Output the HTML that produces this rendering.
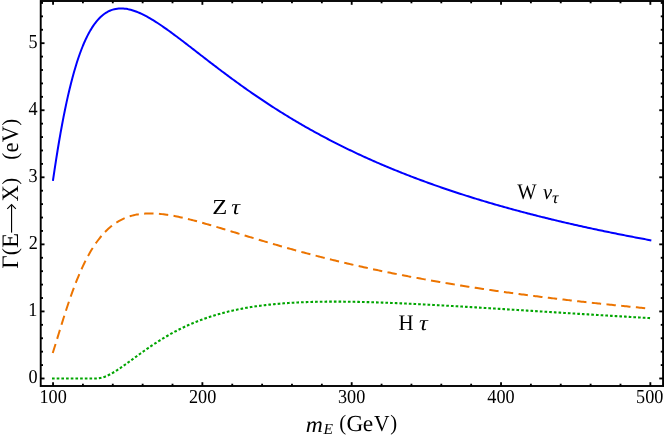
<!DOCTYPE html>
<html><head><meta charset="utf-8"><style>
html,body{margin:0;padding:0;background:#fff;}
svg{display:block;font-family:"Liberation Serif",serif;text-rendering:geometricPrecision;will-change:transform;}
</style></head><body>
<svg width="664" height="436" viewBox="0 0 664 436">
<rect width="664" height="436" fill="#fff"/>
<g fill="none" stroke-linejoin="round" stroke-linecap="square">
<path d="M53.05,179.91 L54.54,169.80 L56.04,160.07 L57.53,150.72 L59.02,141.76 L60.52,133.18 L62.01,124.99 L63.50,117.16 L65.00,109.71 L66.49,102.62 L67.98,95.89 L69.48,89.49 L70.97,83.43 L72.46,77.70 L73.96,72.28 L75.45,67.16 L76.94,62.33 L78.44,57.79 L79.93,53.52 L81.42,49.51 L82.91,45.75 L84.41,42.23 L85.90,38.94 L87.39,35.87 L88.89,33.02 L90.38,30.37 L91.87,27.91 L93.37,25.64 L94.86,23.54 L96.35,21.62 L97.85,19.85 L99.34,18.24 L100.83,16.78 L102.33,15.46 L103.82,14.27 L105.31,13.21 L106.81,12.28 L108.30,11.46 L109.79,10.75 L111.29,10.14 L112.78,9.63 L114.27,9.22 L115.77,8.90 L117.26,8.67 L118.75,8.52 L120.25,8.44 L121.74,8.44 L123.23,8.52 L124.73,8.65 L126.22,8.85 L127.71,9.11 L129.21,9.43 L130.70,9.80 L132.19,10.22 L133.69,10.69 L135.18,11.21 L136.67,11.77 L138.17,12.37 L139.66,13.01 L141.15,13.69 L142.65,14.40 L144.14,15.14 L145.63,15.92 L147.12,16.72 L148.62,17.55 L150.11,18.41 L151.60,19.29 L153.10,20.20 L154.59,21.12 L156.08,22.07 L157.58,23.03 L159.07,24.01 L160.56,25.01 L162.06,26.03 L163.55,27.06 L165.04,28.10 L166.54,29.15 L168.03,30.22 L169.52,31.29 L171.02,32.38 L172.51,33.47 L174.00,34.58 L175.50,35.69 L176.99,36.81 L178.48,37.93 L179.98,39.06 L181.47,40.19 L182.96,41.33 L184.46,42.47 L185.95,43.62 L187.44,44.77 L188.94,45.92 L190.43,47.07 L191.92,48.23 L193.42,49.39 L194.91,50.54 L196.40,51.70 L197.90,52.86 L199.39,54.02 L200.88,55.17 L202.38,56.33 L203.87,57.48 L205.36,58.64 L206.85,59.79 L208.35,60.94 L209.84,62.09 L211.33,63.23 L212.83,64.38 L214.32,65.52 L215.81,66.66 L217.31,67.79 L218.80,68.93 L220.29,70.05 L221.79,71.18 L223.28,72.30 L224.77,73.42 L226.27,74.53 L227.76,75.65 L229.25,76.75 L230.75,77.85 L232.24,78.95 L233.73,80.05 L235.23,81.14 L236.72,82.22 L238.21,83.30 L239.71,84.38 L241.20,85.45 L242.69,86.52 L244.19,87.58 L245.68,88.63 L247.17,89.69 L248.67,90.73 L250.16,91.78 L251.65,92.81 L253.15,93.84 L254.64,94.87 L256.13,95.89 L257.63,96.91 L259.12,97.92 L260.61,98.93 L262.11,99.93 L263.60,100.93 L265.09,101.92 L266.58,102.91 L268.08,103.89 L269.57,104.86 L271.06,105.84 L272.56,106.80 L274.05,107.76 L275.54,108.72 L277.04,109.67 L278.53,110.61 L280.02,111.55 L281.52,112.49 L283.01,113.42 L284.50,114.34 L286.00,115.26 L287.49,116.18 L288.98,117.08 L290.48,117.99 L291.97,118.89 L293.46,119.78 L294.96,120.67 L296.45,121.56 L297.94,122.44 L299.44,123.31 L300.93,124.18 L302.42,125.04 L303.92,125.90 L305.41,126.76 L306.90,127.61 L308.40,128.45 L309.89,129.29 L311.38,130.13 L312.88,130.96 L314.37,131.78 L315.86,132.61 L317.36,133.42 L318.85,134.23 L320.34,135.04 L321.84,135.84 L323.33,136.64 L324.82,137.44 L326.31,138.23 L327.81,139.01 L329.30,139.79 L330.79,140.57 L332.29,141.34 L333.78,142.10 L335.27,142.87 L336.77,143.62 L338.26,144.38 L339.75,145.13 L341.25,145.87 L342.74,146.61 L344.23,147.35 L345.73,148.08 L347.22,148.81 L348.71,149.54 L350.21,150.26 L351.70,150.97 L353.19,151.68 L354.69,152.39 L356.18,153.10 L357.67,153.80 L359.17,154.49 L360.66,155.19 L362.15,155.87 L363.65,156.56 L365.14,157.24 L366.63,157.92 L368.13,158.59 L369.62,159.26 L371.11,159.92 L372.61,160.59 L374.10,161.24 L375.59,161.90 L377.09,162.55 L378.58,163.20 L380.07,163.84 L381.57,164.48 L383.06,165.12 L384.55,165.75 L386.04,166.38 L387.54,167.01 L389.03,167.63 L390.52,168.25 L392.02,168.86 L393.51,169.48 L395.00,170.09 L396.50,170.69 L397.99,171.30 L399.48,171.90 L400.98,172.49 L402.47,173.08 L403.96,173.67 L405.46,174.26 L406.95,174.84 L408.44,175.42 L409.94,176.00 L411.43,176.58 L412.92,177.15 L414.42,177.72 L415.91,178.28 L417.40,178.84 L418.90,179.40 L420.39,179.96 L421.88,180.51 L423.38,181.06 L424.87,181.61 L426.36,182.15 L427.86,182.69 L429.35,183.23 L430.84,183.77 L432.34,184.30 L433.83,184.83 L435.32,185.36 L436.82,185.88 L438.31,186.41 L439.80,186.93 L441.30,187.44 L442.79,187.96 L444.28,188.47 L445.77,188.98 L447.27,189.48 L448.76,189.99 L450.25,190.49 L451.75,190.99 L453.24,191.48 L454.73,191.98 L456.23,192.47 L457.72,192.96 L459.21,193.44 L460.71,193.93 L462.20,194.41 L463.69,194.89 L465.19,195.36 L466.68,195.84 L468.17,196.31 L469.67,196.78 L471.16,197.25 L472.65,197.71 L474.15,198.17 L475.64,198.63 L477.13,199.09 L478.63,199.55 L480.12,200.00 L481.61,200.45 L483.11,200.90 L484.60,201.35 L486.09,201.79 L487.59,202.23 L489.08,202.68 L490.57,203.11 L492.07,203.55 L493.56,203.98 L495.05,204.42 L496.55,204.85 L498.04,205.27 L499.53,205.70 L501.03,206.12 L502.52,206.54 L504.01,206.96 L505.50,207.38 L507.00,207.80 L508.49,208.21 L509.98,208.62 L511.48,209.03 L512.97,209.44 L514.46,209.85 L515.96,210.25 L517.45,210.65 L518.94,211.05 L520.44,211.45 L521.93,211.85 L523.42,212.24 L524.92,212.64 L526.41,213.03 L527.90,213.42 L529.40,213.81 L530.89,214.19 L532.38,214.58 L533.88,214.96 L535.37,215.34 L536.86,215.72 L538.36,216.10 L539.85,216.47 L541.34,216.85 L542.84,217.22 L544.33,217.59 L545.82,217.96 L547.32,218.32 L548.81,218.69 L550.30,219.05 L551.80,219.42 L553.29,219.78 L554.78,220.14 L556.28,220.49 L557.77,220.85 L559.26,221.20 L560.75,221.56 L562.25,221.91 L563.74,222.26 L565.23,222.61 L566.73,222.95 L568.22,223.30 L569.71,223.64 L571.21,223.98 L572.70,224.32 L574.19,224.66 L575.69,225.00 L577.18,225.34 L578.67,225.67 L580.17,226.01 L581.66,226.34 L583.15,226.67 L584.65,227.00 L586.14,227.32 L587.63,227.65 L589.13,227.98 L590.62,228.30 L592.11,228.62 L593.61,228.94 L595.10,229.26 L596.59,229.58 L598.09,229.90 L599.58,230.21 L601.07,230.53 L602.57,230.84 L604.06,231.15 L605.55,231.46 L607.05,231.77 L608.54,232.08 L610.03,232.39 L611.53,232.69 L613.02,232.99 L614.51,233.30 L616.01,233.60 L617.50,233.90 L618.99,234.20 L620.49,234.50 L621.98,234.79 L623.47,235.09 L624.96,235.38 L626.46,235.67 L627.95,235.97 L629.44,236.26 L630.94,236.55 L632.43,236.84 L633.92,237.12 L635.42,237.41 L636.91,237.69 L638.40,237.98 L639.90,238.26 L641.39,238.54 L642.88,238.82 L644.38,239.10 L645.87,239.38 L647.36,239.66 L648.86,239.93 L650.35,240.21" stroke="#0000ff" stroke-width="2"/>
<path d="M53.05,352.00 L54.54,347.30 L56.04,342.51 L57.53,337.65 L59.02,332.78 L60.52,327.92 L62.01,323.09 L63.50,318.31 L65.00,313.61 L66.49,309.00 L67.98,304.48 L69.48,300.08 L70.97,295.79 L72.46,291.62 L73.96,287.58 L75.45,283.67 L76.94,279.90 L78.44,276.26 L79.93,272.75 L81.42,269.37 L82.91,266.13 L84.41,263.01 L85.90,260.03 L87.39,257.17 L88.89,254.43 L90.38,251.82 L91.87,249.33 L93.37,246.95 L94.86,244.68 L96.35,242.53 L97.85,240.48 L99.34,238.53 L100.83,236.68 L102.33,234.93 L103.82,233.27 L105.31,231.70 L106.81,230.22 L108.30,228.82 L109.79,227.50 L111.29,226.26 L112.78,225.10 L114.27,224.01 L115.77,222.98 L117.26,222.03 L118.75,221.14 L120.25,220.30 L121.74,219.53 L123.23,218.82 L124.73,218.16 L126.22,217.55 L127.71,216.99 L129.21,216.49 L130.70,216.02 L132.19,215.60 L133.69,215.23 L135.18,214.89 L136.67,214.60 L138.17,214.34 L139.66,214.11 L141.15,213.92 L142.65,213.77 L144.14,213.64 L145.63,213.55 L147.12,213.48 L148.62,213.44 L150.11,213.43 L151.60,213.44 L153.10,213.47 L154.59,213.53 L156.08,213.61 L157.58,213.71 L159.07,213.83 L160.56,213.97 L162.06,214.13 L163.55,214.31 L165.04,214.50 L166.54,214.71 L168.03,214.93 L169.52,215.16 L171.02,215.41 L172.51,215.68 L174.00,215.95 L175.50,216.24 L176.99,216.54 L178.48,216.84 L179.98,217.16 L181.47,217.49 L182.96,217.83 L184.46,218.17 L185.95,218.52 L187.44,218.88 L188.94,219.25 L190.43,219.63 L191.92,220.01 L193.42,220.39 L194.91,220.79 L196.40,221.18 L197.90,221.59 L199.39,222.00 L200.88,222.41 L202.38,222.82 L203.87,223.24 L205.36,223.67 L206.85,224.10 L208.35,224.53 L209.84,224.96 L211.33,225.40 L212.83,225.83 L214.32,226.27 L215.81,226.72 L217.31,227.16 L218.80,227.61 L220.29,228.06 L221.79,228.50 L223.28,228.95 L224.77,229.41 L226.27,229.86 L227.76,230.31 L229.25,230.77 L230.75,231.22 L232.24,231.67 L233.73,232.13 L235.23,232.58 L236.72,233.04 L238.21,233.50 L239.71,233.95 L241.20,234.41 L242.69,234.86 L244.19,235.31 L245.68,235.77 L247.17,236.22 L248.67,236.67 L250.16,237.13 L251.65,237.58 L253.15,238.03 L254.64,238.48 L256.13,238.93 L257.63,239.37 L259.12,239.82 L260.61,240.27 L262.11,240.71 L263.60,241.15 L265.09,241.60 L266.58,242.04 L268.08,242.48 L269.57,242.91 L271.06,243.35 L272.56,243.79 L274.05,244.22 L275.54,244.65 L277.04,245.08 L278.53,245.51 L280.02,245.94 L281.52,246.37 L283.01,246.79 L284.50,247.22 L286.00,247.64 L287.49,248.06 L288.98,248.48 L290.48,248.89 L291.97,249.31 L293.46,249.72 L294.96,250.13 L296.45,250.54 L297.94,250.95 L299.44,251.36 L300.93,251.76 L302.42,252.17 L303.92,252.57 L305.41,252.97 L306.90,253.36 L308.40,253.76 L309.89,254.15 L311.38,254.55 L312.88,254.94 L314.37,255.33 L315.86,255.71 L317.36,256.10 L318.85,256.48 L320.34,256.86 L321.84,257.24 L323.33,257.62 L324.82,258.00 L326.31,258.37 L327.81,258.75 L329.30,259.12 L330.79,259.49 L332.29,259.85 L333.78,260.22 L335.27,260.58 L336.77,260.95 L338.26,261.31 L339.75,261.66 L341.25,262.02 L342.74,262.38 L344.23,262.73 L345.73,263.08 L347.22,263.43 L348.71,263.78 L350.21,264.13 L351.70,264.47 L353.19,264.81 L354.69,265.15 L356.18,265.49 L357.67,265.83 L359.17,266.17 L360.66,266.50 L362.15,266.84 L363.65,267.17 L365.14,267.50 L366.63,267.82 L368.13,268.15 L369.62,268.47 L371.11,268.80 L372.61,269.12 L374.10,269.44 L375.59,269.76 L377.09,270.07 L378.58,270.39 L380.07,270.70 L381.57,271.01 L383.06,271.32 L384.55,271.63 L386.04,271.94 L387.54,272.24 L389.03,272.55 L390.52,272.85 L392.02,273.15 L393.51,273.45 L395.00,273.75 L396.50,274.05 L397.99,274.34 L399.48,274.63 L400.98,274.93 L402.47,275.22 L403.96,275.51 L405.46,275.79 L406.95,276.08 L408.44,276.36 L409.94,276.65 L411.43,276.93 L412.92,277.21 L414.42,277.49 L415.91,277.77 L417.40,278.04 L418.90,278.32 L420.39,278.59 L421.88,278.86 L423.38,279.13 L424.87,279.40 L426.36,279.67 L427.86,279.94 L429.35,280.20 L430.84,280.47 L432.34,280.73 L433.83,280.99 L435.32,281.25 L436.82,281.51 L438.31,281.77 L439.80,282.03 L441.30,282.28 L442.79,282.54 L444.28,282.79 L445.77,283.04 L447.27,283.29 L448.76,283.54 L450.25,283.79 L451.75,284.04 L453.24,284.28 L454.73,284.53 L456.23,284.77 L457.72,285.01 L459.21,285.25 L460.71,285.49 L462.20,285.73 L463.69,285.97 L465.19,286.20 L466.68,286.44 L468.17,286.67 L469.67,286.91 L471.16,287.14 L472.65,287.37 L474.15,287.60 L475.64,287.83 L477.13,288.05 L478.63,288.28 L480.12,288.51 L481.61,288.73 L483.11,288.95 L484.60,289.18 L486.09,289.40 L487.59,289.62 L489.08,289.84 L490.57,290.05 L492.07,290.27 L493.56,290.49 L495.05,290.70 L496.55,290.92 L498.04,291.13 L499.53,291.34 L501.03,291.55 L502.52,291.76 L504.01,291.97 L505.50,292.18 L507.00,292.39 L508.49,292.59 L509.98,292.80 L511.48,293.00 L512.97,293.21 L514.46,293.41 L515.96,293.61 L517.45,293.81 L518.94,294.01 L520.44,294.21 L521.93,294.41 L523.42,294.61 L524.92,294.80 L526.41,295.00 L527.90,295.19 L529.40,295.39 L530.89,295.58 L532.38,295.77 L533.88,295.96 L535.37,296.15 L536.86,296.34 L538.36,296.53 L539.85,296.72 L541.34,296.90 L542.84,297.09 L544.33,297.27 L545.82,297.46 L547.32,297.64 L548.81,297.83 L550.30,298.01 L551.80,298.19 L553.29,298.37 L554.78,298.55 L556.28,298.73 L557.77,298.91 L559.26,299.08 L560.75,299.26 L562.25,299.44 L563.74,299.61 L565.23,299.79 L566.73,299.96 L568.22,300.13 L569.71,300.30 L571.21,300.48 L572.70,300.65 L574.19,300.82 L575.69,300.98 L577.18,301.15 L578.67,301.32 L580.17,301.49 L581.66,301.65 L583.15,301.82 L584.65,301.99 L586.14,302.15 L587.63,302.31 L589.13,302.48 L590.62,302.64 L592.11,302.80 L593.61,302.96 L595.10,303.12 L596.59,303.28 L598.09,303.44 L599.58,303.60 L601.07,303.76 L602.57,303.91 L604.06,304.07 L605.55,304.22 L607.05,304.38 L608.54,304.53 L610.03,304.69 L611.53,304.84 L613.02,304.99 L614.51,305.15 L616.01,305.30 L617.50,305.45 L618.99,305.60 L620.49,305.75 L621.98,305.90 L623.47,306.04 L624.96,306.19 L626.46,306.34 L627.95,306.49 L629.44,306.63 L630.94,306.78 L632.43,306.92 L633.92,307.07 L635.42,307.21 L636.91,307.35 L638.40,307.50 L639.90,307.64 L641.39,307.78 L642.88,307.92 L644.38,308.06 L645.87,308.20 L647.36,308.34 L648.86,308.48 L650.35,308.62" stroke="#ec7400" stroke-width="2" stroke-dasharray="7.38,7.38"/>
<path d="M53.05,378.48 L54.54,378.48 L56.04,378.48 L57.53,378.48 L59.02,378.48 L60.52,378.48 L62.01,378.48 L63.50,378.48 L65.00,378.48 L66.49,378.48 L67.98,378.48 L69.48,378.48 L70.97,378.48 L72.46,378.48 L73.96,378.48 L75.45,378.48 L76.94,378.48 L78.44,378.48 L79.93,378.48 L81.42,378.48 L82.91,378.48 L84.41,378.48 L85.90,378.48 L87.39,378.48 L88.89,378.48 L90.38,378.48 L91.87,378.48 L93.37,378.48 L94.86,378.48 L96.35,378.48 L97.85,378.42 L99.34,378.24 L100.83,377.95 L102.33,377.57 L103.82,377.09 L105.31,376.54 L106.81,375.92 L108.30,375.23 L109.79,374.48 L111.29,373.69 L112.78,372.84 L114.27,371.96 L115.77,371.03 L117.26,370.08 L118.75,369.10 L120.25,368.09 L121.74,367.07 L123.23,366.03 L124.73,364.97 L126.22,363.90 L127.71,362.82 L129.21,361.74 L130.70,360.65 L132.19,359.56 L133.69,358.46 L135.18,357.37 L136.67,356.28 L138.17,355.19 L139.66,354.11 L141.15,353.04 L142.65,351.97 L144.14,350.91 L145.63,349.85 L147.12,348.81 L148.62,347.78 L150.11,346.75 L151.60,345.74 L153.10,344.74 L154.59,343.76 L156.08,342.78 L157.58,341.82 L159.07,340.87 L160.56,339.94 L162.06,339.01 L163.55,338.11 L165.04,337.21 L166.54,336.33 L168.03,335.47 L169.52,334.62 L171.02,333.78 L172.51,332.96 L174.00,332.15 L175.50,331.36 L176.99,330.58 L178.48,329.81 L179.98,329.06 L181.47,328.32 L182.96,327.60 L184.46,326.89 L185.95,326.19 L187.44,325.51 L188.94,324.84 L190.43,324.19 L191.92,323.55 L193.42,322.92 L194.91,322.31 L196.40,321.70 L197.90,321.11 L199.39,320.54 L200.88,319.97 L202.38,319.42 L203.87,318.88 L205.36,318.35 L206.85,317.84 L208.35,317.33 L209.84,316.84 L211.33,316.35 L212.83,315.88 L214.32,315.42 L215.81,314.97 L217.31,314.53 L218.80,314.11 L220.29,313.69 L221.79,313.28 L223.28,312.88 L224.77,312.49 L226.27,312.11 L227.76,311.75 L229.25,311.38 L230.75,311.03 L232.24,310.69 L233.73,310.36 L235.23,310.03 L236.72,309.72 L238.21,309.41 L239.71,309.11 L241.20,308.82 L242.69,308.53 L244.19,308.26 L245.68,307.99 L247.17,307.73 L248.67,307.48 L250.16,307.23 L251.65,306.99 L253.15,306.76 L254.64,306.53 L256.13,306.31 L257.63,306.10 L259.12,305.90 L260.61,305.70 L262.11,305.50 L263.60,305.32 L265.09,305.14 L266.58,304.96 L268.08,304.79 L269.57,304.63 L271.06,304.47 L272.56,304.32 L274.05,304.17 L275.54,304.03 L277.04,303.89 L278.53,303.76 L280.02,303.63 L281.52,303.51 L283.01,303.39 L284.50,303.28 L286.00,303.17 L287.49,303.06 L288.98,302.96 L290.48,302.87 L291.97,302.78 L293.46,302.69 L294.96,302.61 L296.45,302.53 L297.94,302.45 L299.44,302.38 L300.93,302.31 L302.42,302.25 L303.92,302.19 L305.41,302.13 L306.90,302.08 L308.40,302.03 L309.89,301.98 L311.38,301.94 L312.88,301.90 L314.37,301.86 L315.86,301.83 L317.36,301.79 L318.85,301.77 L320.34,301.74 L321.84,301.72 L323.33,301.70 L324.82,301.68 L326.31,301.67 L327.81,301.65 L329.30,301.64 L330.79,301.64 L332.29,301.63 L333.78,301.63 L335.27,301.63 L336.77,301.63 L338.26,301.64 L339.75,301.65 L341.25,301.65 L342.74,301.67 L344.23,301.68 L345.73,301.69 L347.22,301.71 L348.71,301.73 L350.21,301.75 L351.70,301.77 L353.19,301.80 L354.69,301.82 L356.18,301.85 L357.67,301.88 L359.17,301.91 L360.66,301.95 L362.15,301.98 L363.65,302.02 L365.14,302.06 L366.63,302.09 L368.13,302.14 L369.62,302.18 L371.11,302.22 L372.61,302.27 L374.10,302.31 L375.59,302.36 L377.09,302.41 L378.58,302.46 L380.07,302.51 L381.57,302.56 L383.06,302.62 L384.55,302.67 L386.04,302.73 L387.54,302.78 L389.03,302.84 L390.52,302.90 L392.02,302.96 L393.51,303.02 L395.00,303.08 L396.50,303.15 L397.99,303.21 L399.48,303.28 L400.98,303.34 L402.47,303.41 L403.96,303.48 L405.46,303.55 L406.95,303.61 L408.44,303.68 L409.94,303.76 L411.43,303.83 L412.92,303.90 L414.42,303.97 L415.91,304.05 L417.40,304.12 L418.90,304.19 L420.39,304.27 L421.88,304.35 L423.38,304.42 L424.87,304.50 L426.36,304.58 L427.86,304.66 L429.35,304.74 L430.84,304.82 L432.34,304.90 L433.83,304.98 L435.32,305.06 L436.82,305.14 L438.31,305.22 L439.80,305.31 L441.30,305.39 L442.79,305.47 L444.28,305.56 L445.77,305.64 L447.27,305.73 L448.76,305.81 L450.25,305.90 L451.75,305.98 L453.24,306.07 L454.73,306.16 L456.23,306.24 L457.72,306.33 L459.21,306.42 L460.71,306.51 L462.20,306.59 L463.69,306.68 L465.19,306.77 L466.68,306.86 L468.17,306.95 L469.67,307.04 L471.16,307.13 L472.65,307.22 L474.15,307.31 L475.64,307.40 L477.13,307.49 L478.63,307.58 L480.12,307.67 L481.61,307.76 L483.11,307.86 L484.60,307.95 L486.09,308.04 L487.59,308.13 L489.08,308.22 L490.57,308.32 L492.07,308.41 L493.56,308.50 L495.05,308.59 L496.55,308.69 L498.04,308.78 L499.53,308.87 L501.03,308.96 L502.52,309.06 L504.01,309.15 L505.50,309.24 L507.00,309.34 L508.49,309.43 L509.98,309.52 L511.48,309.62 L512.97,309.71 L514.46,309.81 L515.96,309.90 L517.45,309.99 L518.94,310.09 L520.44,310.18 L521.93,310.27 L523.42,310.37 L524.92,310.46 L526.41,310.56 L527.90,310.65 L529.40,310.74 L530.89,310.84 L532.38,310.93 L533.88,311.03 L535.37,311.12 L536.86,311.21 L538.36,311.31 L539.85,311.40 L541.34,311.50 L542.84,311.59 L544.33,311.68 L545.82,311.78 L547.32,311.87 L548.81,311.96 L550.30,312.06 L551.80,312.15 L553.29,312.24 L554.78,312.34 L556.28,312.43 L557.77,312.53 L559.26,312.62 L560.75,312.71 L562.25,312.81 L563.74,312.90 L565.23,312.99 L566.73,313.08 L568.22,313.18 L569.71,313.27 L571.21,313.36 L572.70,313.46 L574.19,313.55 L575.69,313.64 L577.18,313.73 L578.67,313.83 L580.17,313.92 L581.66,314.01 L583.15,314.10 L584.65,314.19 L586.14,314.29 L587.63,314.38 L589.13,314.47 L590.62,314.56 L592.11,314.65 L593.61,314.74 L595.10,314.83 L596.59,314.93 L598.09,315.02 L599.58,315.11 L601.07,315.20 L602.57,315.29 L604.06,315.38 L605.55,315.47 L607.05,315.56 L608.54,315.65 L610.03,315.74 L611.53,315.83 L613.02,315.92 L614.51,316.01 L616.01,316.10 L617.50,316.19 L618.99,316.28 L620.49,316.37 L621.98,316.46 L623.47,316.55 L624.96,316.63 L626.46,316.72 L627.95,316.81 L629.44,316.90 L630.94,316.99 L632.43,317.08 L633.92,317.16 L635.42,317.25 L636.91,317.34 L638.40,317.43 L639.90,317.51 L641.39,317.60 L642.88,317.69 L644.38,317.78 L645.87,317.86 L647.36,317.95 L648.86,318.04 L650.35,318.12" stroke="#00a500" stroke-width="2.1" stroke-dasharray="0.55,4.137"/>
</g>
<rect x="40.72" y="1.0" width="622.3299999999999" height="385.0" fill="none" stroke="#000" stroke-width="1.9"/>
<g stroke="#000" stroke-width="1.85"><line x1="53.05" y1="386.0" x2="53.05" y2="382.2"/><line x1="53.05" y1="1.0" x2="53.05" y2="4.8"/><line x1="82.91" y1="386.0" x2="82.91" y2="383.7"/><line x1="82.91" y1="1.0" x2="82.91" y2="3.3"/><line x1="112.78" y1="386.0" x2="112.78" y2="383.7"/><line x1="112.78" y1="1.0" x2="112.78" y2="3.3"/><line x1="142.65" y1="386.0" x2="142.65" y2="383.7"/><line x1="142.65" y1="1.0" x2="142.65" y2="3.3"/><line x1="172.51" y1="386.0" x2="172.51" y2="383.7"/><line x1="172.51" y1="1.0" x2="172.51" y2="3.3"/><line x1="202.38" y1="386.0" x2="202.38" y2="382.2"/><line x1="202.38" y1="1.0" x2="202.38" y2="4.8"/><line x1="232.24" y1="386.0" x2="232.24" y2="383.7"/><line x1="232.24" y1="1.0" x2="232.24" y2="3.3"/><line x1="262.11" y1="386.0" x2="262.11" y2="383.7"/><line x1="262.11" y1="1.0" x2="262.11" y2="3.3"/><line x1="291.97" y1="386.0" x2="291.97" y2="383.7"/><line x1="291.97" y1="1.0" x2="291.97" y2="3.3"/><line x1="321.84" y1="386.0" x2="321.84" y2="383.7"/><line x1="321.84" y1="1.0" x2="321.84" y2="3.3"/><line x1="351.70" y1="386.0" x2="351.70" y2="382.2"/><line x1="351.70" y1="1.0" x2="351.70" y2="4.8"/><line x1="381.57" y1="386.0" x2="381.57" y2="383.7"/><line x1="381.57" y1="1.0" x2="381.57" y2="3.3"/><line x1="411.43" y1="386.0" x2="411.43" y2="383.7"/><line x1="411.43" y1="1.0" x2="411.43" y2="3.3"/><line x1="441.30" y1="386.0" x2="441.30" y2="383.7"/><line x1="441.30" y1="1.0" x2="441.30" y2="3.3"/><line x1="471.16" y1="386.0" x2="471.16" y2="383.7"/><line x1="471.16" y1="1.0" x2="471.16" y2="3.3"/><line x1="501.03" y1="386.0" x2="501.03" y2="382.2"/><line x1="501.03" y1="1.0" x2="501.03" y2="4.8"/><line x1="530.89" y1="386.0" x2="530.89" y2="383.7"/><line x1="530.89" y1="1.0" x2="530.89" y2="3.3"/><line x1="560.75" y1="386.0" x2="560.75" y2="383.7"/><line x1="560.75" y1="1.0" x2="560.75" y2="3.3"/><line x1="590.62" y1="386.0" x2="590.62" y2="383.7"/><line x1="590.62" y1="1.0" x2="590.62" y2="3.3"/><line x1="620.49" y1="386.0" x2="620.49" y2="383.7"/><line x1="620.49" y1="1.0" x2="620.49" y2="3.3"/><line x1="650.35" y1="386.0" x2="650.35" y2="382.2"/><line x1="650.35" y1="1.0" x2="650.35" y2="4.8"/><line x1="40.72" y1="378.48" x2="44.519999999999996" y2="378.48"/><line x1="663.05" y1="378.48" x2="659.25" y2="378.48"/><line x1="40.72" y1="365.07" x2="43.019999999999996" y2="365.07"/><line x1="663.05" y1="365.07" x2="660.75" y2="365.07"/><line x1="40.72" y1="351.66" x2="43.019999999999996" y2="351.66"/><line x1="663.05" y1="351.66" x2="660.75" y2="351.66"/><line x1="40.72" y1="338.24" x2="43.019999999999996" y2="338.24"/><line x1="663.05" y1="338.24" x2="660.75" y2="338.24"/><line x1="40.72" y1="324.83" x2="43.019999999999996" y2="324.83"/><line x1="663.05" y1="324.83" x2="660.75" y2="324.83"/><line x1="40.72" y1="311.42" x2="44.519999999999996" y2="311.42"/><line x1="663.05" y1="311.42" x2="659.25" y2="311.42"/><line x1="40.72" y1="298.01" x2="43.019999999999996" y2="298.01"/><line x1="663.05" y1="298.01" x2="660.75" y2="298.01"/><line x1="40.72" y1="284.60" x2="43.019999999999996" y2="284.60"/><line x1="663.05" y1="284.60" x2="660.75" y2="284.60"/><line x1="40.72" y1="271.18" x2="43.019999999999996" y2="271.18"/><line x1="663.05" y1="271.18" x2="660.75" y2="271.18"/><line x1="40.72" y1="257.77" x2="43.019999999999996" y2="257.77"/><line x1="663.05" y1="257.77" x2="660.75" y2="257.77"/><line x1="40.72" y1="244.36" x2="44.519999999999996" y2="244.36"/><line x1="663.05" y1="244.36" x2="659.25" y2="244.36"/><line x1="40.72" y1="230.95" x2="43.019999999999996" y2="230.95"/><line x1="663.05" y1="230.95" x2="660.75" y2="230.95"/><line x1="40.72" y1="217.54" x2="43.019999999999996" y2="217.54"/><line x1="663.05" y1="217.54" x2="660.75" y2="217.54"/><line x1="40.72" y1="204.12" x2="43.019999999999996" y2="204.12"/><line x1="663.05" y1="204.12" x2="660.75" y2="204.12"/><line x1="40.72" y1="190.71" x2="43.019999999999996" y2="190.71"/><line x1="663.05" y1="190.71" x2="660.75" y2="190.71"/><line x1="40.72" y1="177.30" x2="44.519999999999996" y2="177.30"/><line x1="663.05" y1="177.30" x2="659.25" y2="177.30"/><line x1="40.72" y1="163.89" x2="43.019999999999996" y2="163.89"/><line x1="663.05" y1="163.89" x2="660.75" y2="163.89"/><line x1="40.72" y1="150.48" x2="43.019999999999996" y2="150.48"/><line x1="663.05" y1="150.48" x2="660.75" y2="150.48"/><line x1="40.72" y1="137.06" x2="43.019999999999996" y2="137.06"/><line x1="663.05" y1="137.06" x2="660.75" y2="137.06"/><line x1="40.72" y1="123.65" x2="43.019999999999996" y2="123.65"/><line x1="663.05" y1="123.65" x2="660.75" y2="123.65"/><line x1="40.72" y1="110.24" x2="44.519999999999996" y2="110.24"/><line x1="663.05" y1="110.24" x2="659.25" y2="110.24"/><line x1="40.72" y1="96.83" x2="43.019999999999996" y2="96.83"/><line x1="663.05" y1="96.83" x2="660.75" y2="96.83"/><line x1="40.72" y1="83.42" x2="43.019999999999996" y2="83.42"/><line x1="663.05" y1="83.42" x2="660.75" y2="83.42"/><line x1="40.72" y1="70.00" x2="43.019999999999996" y2="70.00"/><line x1="663.05" y1="70.00" x2="660.75" y2="70.00"/><line x1="40.72" y1="56.59" x2="43.019999999999996" y2="56.59"/><line x1="663.05" y1="56.59" x2="660.75" y2="56.59"/><line x1="40.72" y1="43.18" x2="44.519999999999996" y2="43.18"/><line x1="663.05" y1="43.18" x2="659.25" y2="43.18"/><line x1="40.72" y1="29.77" x2="43.019999999999996" y2="29.77"/><line x1="663.05" y1="29.77" x2="660.75" y2="29.77"/><line x1="40.72" y1="16.36" x2="43.019999999999996" y2="16.36"/><line x1="663.05" y1="16.36" x2="660.75" y2="16.36"/><line x1="40.72" y1="2.94" x2="43.019999999999996" y2="2.94"/><line x1="663.05" y1="2.94" x2="660.75" y2="2.94"/></g>
<g fill="#000"><text transform="translate(39.50,403.25) scale(1.0,1.085)" font-size="18.2px">100</text><text transform="translate(188.97,403.25) scale(1.0,1.085)" font-size="18.2px">200</text><text transform="translate(338.01,403.25) scale(1.0,1.085)" font-size="18.2px">300</text><text transform="translate(487.34,403.25) scale(1.0,1.085)" font-size="18.2px">400</text><text transform="translate(636.07,403.25) scale(1.0,1.085)" font-size="18.2px">500</text><text transform="translate(28.60,383.48) scale(1.0,1.085)" font-size="18.2px">0</text><text transform="translate(28.35,316.42) scale(1.0,1.085)" font-size="18.2px">1</text><text transform="translate(28.70,249.36) scale(1.0,1.085)" font-size="18.2px">2</text><text transform="translate(28.52,182.30) scale(1.0,1.085)" font-size="18.2px">3</text><text transform="translate(28.56,115.24) scale(1.0,1.085)" font-size="18.2px">4</text><text transform="translate(28.43,48.18) scale(1.0,1.085)" font-size="18.2px">5</text></g>
<g fill="#000"><text transform="translate(517.24,199.20) scale(1.0,1.085)" font-size="20.5px">W</text><text transform="translate(543.06,199.10) scale(1.0,1.043)" font-size="20.5px" font-style="italic">ν</text><text transform="translate(552.10,202.60) scale(1.22,1.11)" font-size="14.6px" font-style="italic">τ</text><text transform="translate(212.17,213.75) scale(1.2,1.043)" font-size="20.5px">Z</text><text transform="translate(231.20,214.40) scale(1.19,1.043)" font-size="20.5px" font-style="italic">τ</text><text transform="translate(398.45,329.70) scale(1.02,1.08)" font-size="20.5px">H</text><text transform="translate(419.00,329.80) scale(1.19,1.043)" font-size="20.5px" font-style="italic">τ</text><text transform="translate(305.70,431.60) scale(1.05,1.0)" font-size="22.6px" font-style="italic">m</text><text transform="translate(323.55,434.00) scale(1.02,1.01)" font-size="15.3px" font-style="italic">E</text><text transform="translate(339.23,429.55) scale(1.0,1.06)" font-size="20.7px">(</text><text transform="translate(346.48,430.80) scale(1.03,1.015)" font-size="22.6px">G</text><text transform="translate(362.83,430.80) scale(1.04,1.015)" font-size="22.6px">e</text><text transform="translate(373.95,430.80) scale(0.95,1.015)" font-size="22.6px">V</text><text transform="translate(390.22,429.55) scale(1.0,1.06)" font-size="20.7px">)</text></g>
<g fill="#000" transform="translate(17.9,0) rotate(-90)"><text transform="translate(-268.85,0.00) scale(1.02,1.04)" font-size="22.7px">Γ</text><text transform="translate(-255.35,-1.40) scale(1.05,1.045)" font-size="20.7px">(</text><text transform="translate(-248.05,0.00) scale(1.09,1.04)" font-size="22.7px">E</text><text transform="translate(-201.39,0.00) scale(1.0,1.04)" font-size="22.7px">X</text><text transform="translate(-184.73,-1.40) scale(1.0,1.045)" font-size="20.7px">)</text><text transform="translate(-159.72,-1.40) scale(1.0,1.045)" font-size="20.7px">(</text><text transform="translate(-152.44,0.00) scale(1.0,1.04)" font-size="22.7px">e</text><text transform="translate(-142.16,0.00) scale(0.99,1.04)" font-size="22.7px">V</text><text transform="translate(-125.68,-1.40) scale(1.0,1.045)" font-size="20.7px">)</text><path d="M-232.60,-6.34 L-205.20,-6.34" stroke="#000" stroke-width="1.15" fill="none"/><path d="M-208.80,-10.64 L-204.60,-6.34 L-208.80,-2.04" stroke="#000" stroke-width="1.1" fill="none" stroke-linejoin="miter"/></g>
</svg>
</body></html>
